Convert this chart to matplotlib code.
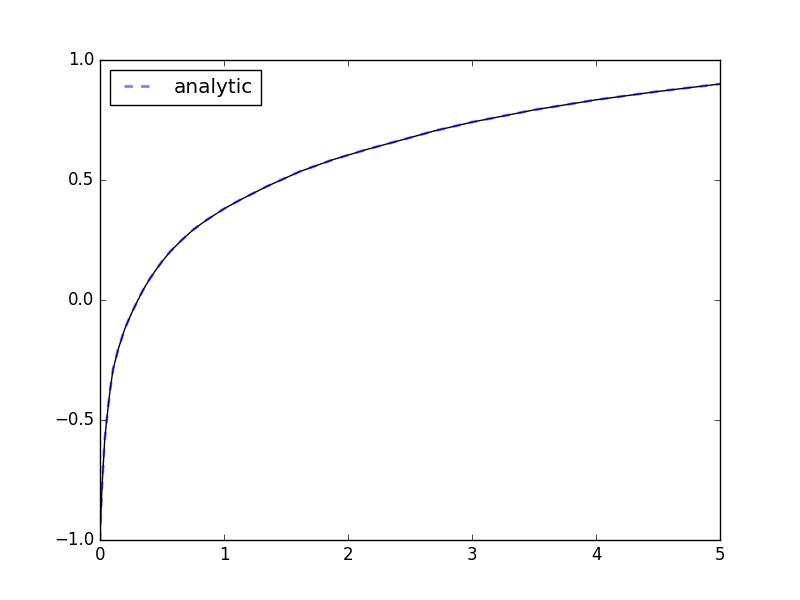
import matplotlib
matplotlib.use("Agg")
import matplotlib.pyplot as plt

plt.style.use('classic')

# values
x = [0.0, 0.005, 0.016, 0.038, 0.054, 0.08, 0.105, 0.145, 0.2, 0.25, 0.306,
     0.35, 0.4, 0.45, 0.5, 0.57, 0.66, 0.75, 0.85, 1.0, 1.13, 1.34, 1.61,
     1.88, 2.15, 2.42, 2.7, 3.0, 3.5, 4.0, 4.5, 5.0]
y = [-1.0, -0.92, -0.78, -0.583, -0.5, -0.38, -0.29, -0.208, -0.12, -0.06, 0.0,
     0.044, 0.087, 0.125, 0.16, 0.204, 0.25, 0.292, 0.33, 0.38, 0.417, 0.472, 0.535,
     0.585, 0.627, 0.665, 0.705, 0.741, 0.792, 0.834, 0.869, 0.9]

fig = plt.figure(figsize=(8, 6), dpi=100)
ax = fig.add_subplot(111)

# numerical solution (solid) and analytic (dashed) overlap
ax.plot(x, y, 'k-')
ax.plot(x, y, 'b--', alpha=0.5, linewidth=2, label='analytic')

ax.set_xlim(0, 5)
ax.set_ylim(-1, 1)
ax.set_yticks([-1.0, -0.5, 0.0, 0.5, 1.0])
ax.legend(loc='upper left')

fig.savefig('out.png', dpi=100)
